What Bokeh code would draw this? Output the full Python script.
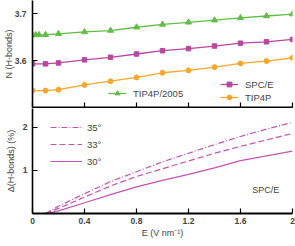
from bokeh.plotting import figure
from bokeh.models import (FixedTicker, Legend, LegendItem, Label, Range1d,
                          CustomLabelingPolicy)
from bokeh.layouts import column
from bokeh.embed import file_html
from bokeh.resources import INLINE

FONT = "Liberation Sans"

# ---- data (top panel) ----
E_tip4p2005 = [0, 0.025, 0.05, 0.1, 0.2, 0.4, 0.6, 0.8, 1.0, 1.2, 1.4, 1.6, 1.8, 2.0]
N_tip4p2005 = [3.6547, 3.6547, 3.6548, 3.6550, 3.657, 3.661, 3.664, 3.671, 3.677, 3.6815, 3.686, 3.691, 3.695, 3.699]
E_spce = [0, 0.1, 0.2, 0.4, 0.6, 0.8, 1.0, 1.2, 1.4, 1.6, 1.8, 2.0]
N_spce = [3.593, 3.593, 3.595, 3.6015, 3.607, 3.614, 3.621, 3.6255, 3.631, 3.637, 3.640, 3.645]
E_tip4p = [0, 0.1, 0.2, 0.4, 0.6, 0.8, 1.0, 1.2, 1.4, 1.6, 1.8, 2.0]
N_tip4p = [3.536, 3.536, 3.538, 3.548, 3.556, 3.564, 3.574, 3.579, 3.586, 3.594, 3.599, 3.606]

# ---- data (bottom panel, SPC/E) ----
E_b = [0.1, 0.2, 0.4, 0.6, 0.8, 1.0, 1.2, 1.4, 1.6, 1.8, 2.0]
d35 = [0, 0.17, 0.46, 0.74, 0.97, 1.20, 1.40, 1.60, 1.79, 1.96, 2.12]
d33 = [0, 0.12, 0.38, 0.64, 0.86, 1.04, 1.22, 1.40, 1.56, 1.71, 1.86]
d30 = [0, 0.06, 0.25, 0.44, 0.62, 0.77, 0.91, 1.06, 1.23, 1.34, 1.45]

x_ticks = [0, 0.4, 0.8, 1.2, 1.6, 2.0]
x_tick_labels = {0: "0", 0.4: "0.4", 0.8: "0.8", 1.2: "1.2", 1.6: "1.6", 2.0: "2"}

GREEN = "#62bd46"
MAGENTA = "#b8479f"
ORANGE = "#f7a72c"
PINK = "#c453b0"


def style_axes(p):
    for ax in p.axis:
        ax.axis_line_color = "black"
        ax.axis_line_width = 1.6
        ax.major_tick_in = 5
        ax.major_tick_out = 0
        ax.major_tick_line_width = 1.2
        ax.minor_tick_line_color = None
        ax.major_label_text_font = FONT
        ax.major_label_text_font_size = "8.5px"
        ax.major_label_text_font_style = "bold"
        ax.axis_label_text_font = FONT
        ax.axis_label_text_font_size = "9px"
        ax.axis_label_text_font_style = "normal"
    p.grid.visible = False
    p.outline_line_color = None
    p.background_fill_color = None
    p.border_fill_color = None


top = figure(width=295, height=108, x_range=Range1d(0, 2), y_range=Range1d(3.5, 3.728),
             output_backend="svg", toolbar_location=None,
             min_border_left=32, min_border_right=3, min_border_top=0, min_border_bottom=1)
style_axes(top)
top.xaxis.ticker = FixedTicker(ticks=x_ticks)
top.xaxis.major_label_text_font_size = "0px"
top.xaxis.major_label_standoff = 0
top.xaxis.axis_label_standoff = 0
top.xaxis.major_label_policy = CustomLabelingPolicy(code="""
for (const i of Array.from(indices)) { indices.unset(i) }
return indices
""")
top.xaxis.axis_line_width = 2
top.yaxis.ticker = FixedTicker(ticks=[3.6, 3.7])
top.yaxis.major_label_standoff = 6
top.yaxis.axis_label = "N (H-bonds)"
top.yaxis.axis_label_standoff = -2

lg1 = top.line(E_tip4p2005, N_tip4p2005, color=GREEN, line_width=1.3)
sg1 = top.scatter(E_tip4p2005, N_tip4p2005, marker="triangle", size=6, color=GREEN)
lg2 = top.line(E_spce, N_spce, color=MAGENTA, line_width=1.3)
sg2 = top.scatter(E_spce, N_spce, marker="square", size=4.5, color=MAGENTA)
lg3 = top.line(E_tip4p, N_tip4p, color=ORANGE, line_width=1.3)
sg3 = top.scatter(E_tip4p, N_tip4p, marker="circle", size=5, color=ORANGE)


def make_legend(items, loc, gw, spacing):
    lg = Legend(items=items, location=loc, glyph_width=gw, glyph_height=12,
                label_height=12, label_standoff=7, spacing=spacing, padding=0, margin=0,
                border_line_color=None, background_fill_alpha=0,
                label_text_font=FONT, label_text_font_size="9.5px")
    return lg


leg_a = make_legend([LegendItem(label="TIP4P/2005", renderers=[lg1, sg1])], (76, 8), 18, 3)
leg_b = make_legend([LegendItem(label="SPC/E", renderers=[lg2, sg2]),
                     LegendItem(label="TIP4P", renderers=[lg3, sg3])], (188, 4), 18, 1)
top.add_layout(leg_a)
top.add_layout(leg_b)

bot = figure(width=295, height=138, x_range=Range1d(0, 2), y_range=Range1d(0, 2.44),
             output_backend="svg", toolbar_location=None,
             min_border_left=32, min_border_right=3, min_border_top=0, min_border_bottom=33)
style_axes(bot)
bot.xaxis.ticker = FixedTicker(ticks=x_ticks)
bot.xaxis.major_label_overrides = x_tick_labels
bot.xaxis.major_label_standoff = 4
bot.xaxis.axis_line_width = 2
bot.xaxis.axis_label = "E (V nm\u207b\u00b9)"
bot.xaxis.axis_label_standoff = 1
bot.yaxis.ticker = FixedTicker(ticks=[1, 2])
bot.yaxis.major_label_standoff = 5
bot.yaxis.axis_label = "\u0394(H-bonds) (%)"
bot.yaxis.axis_label_standoff = 4

r35 = bot.line(E_b, d35, color=PINK, line_width=1.2, line_dash="6 2 1 2")
r33 = bot.line(E_b, d33, color=PINK, line_width=1.2, line_dash="6 3")
r30 = bot.line(E_b, d30, color=PINK, line_width=1.2)

leg_c = make_legend([LegendItem(label="35\u00b0", renderers=[r35]),
                     LegendItem(label="33\u00b0", renderers=[r33]),
                     LegendItem(label="30\u00b0", renderers=[r30])], (18, 46), 32, 5)
leg_c.label_standoff = 5
bot.add_layout(leg_c)
bot.add_layout(Label(x=1.69, y=0.54, text="SPC/E", text_font=FONT, text_font_size="9px",
                     text_baseline="middle", text_align="left"))

layout = column(top, bot, spacing=0)

open("out.html", "w").write(file_html(layout, INLINE))
